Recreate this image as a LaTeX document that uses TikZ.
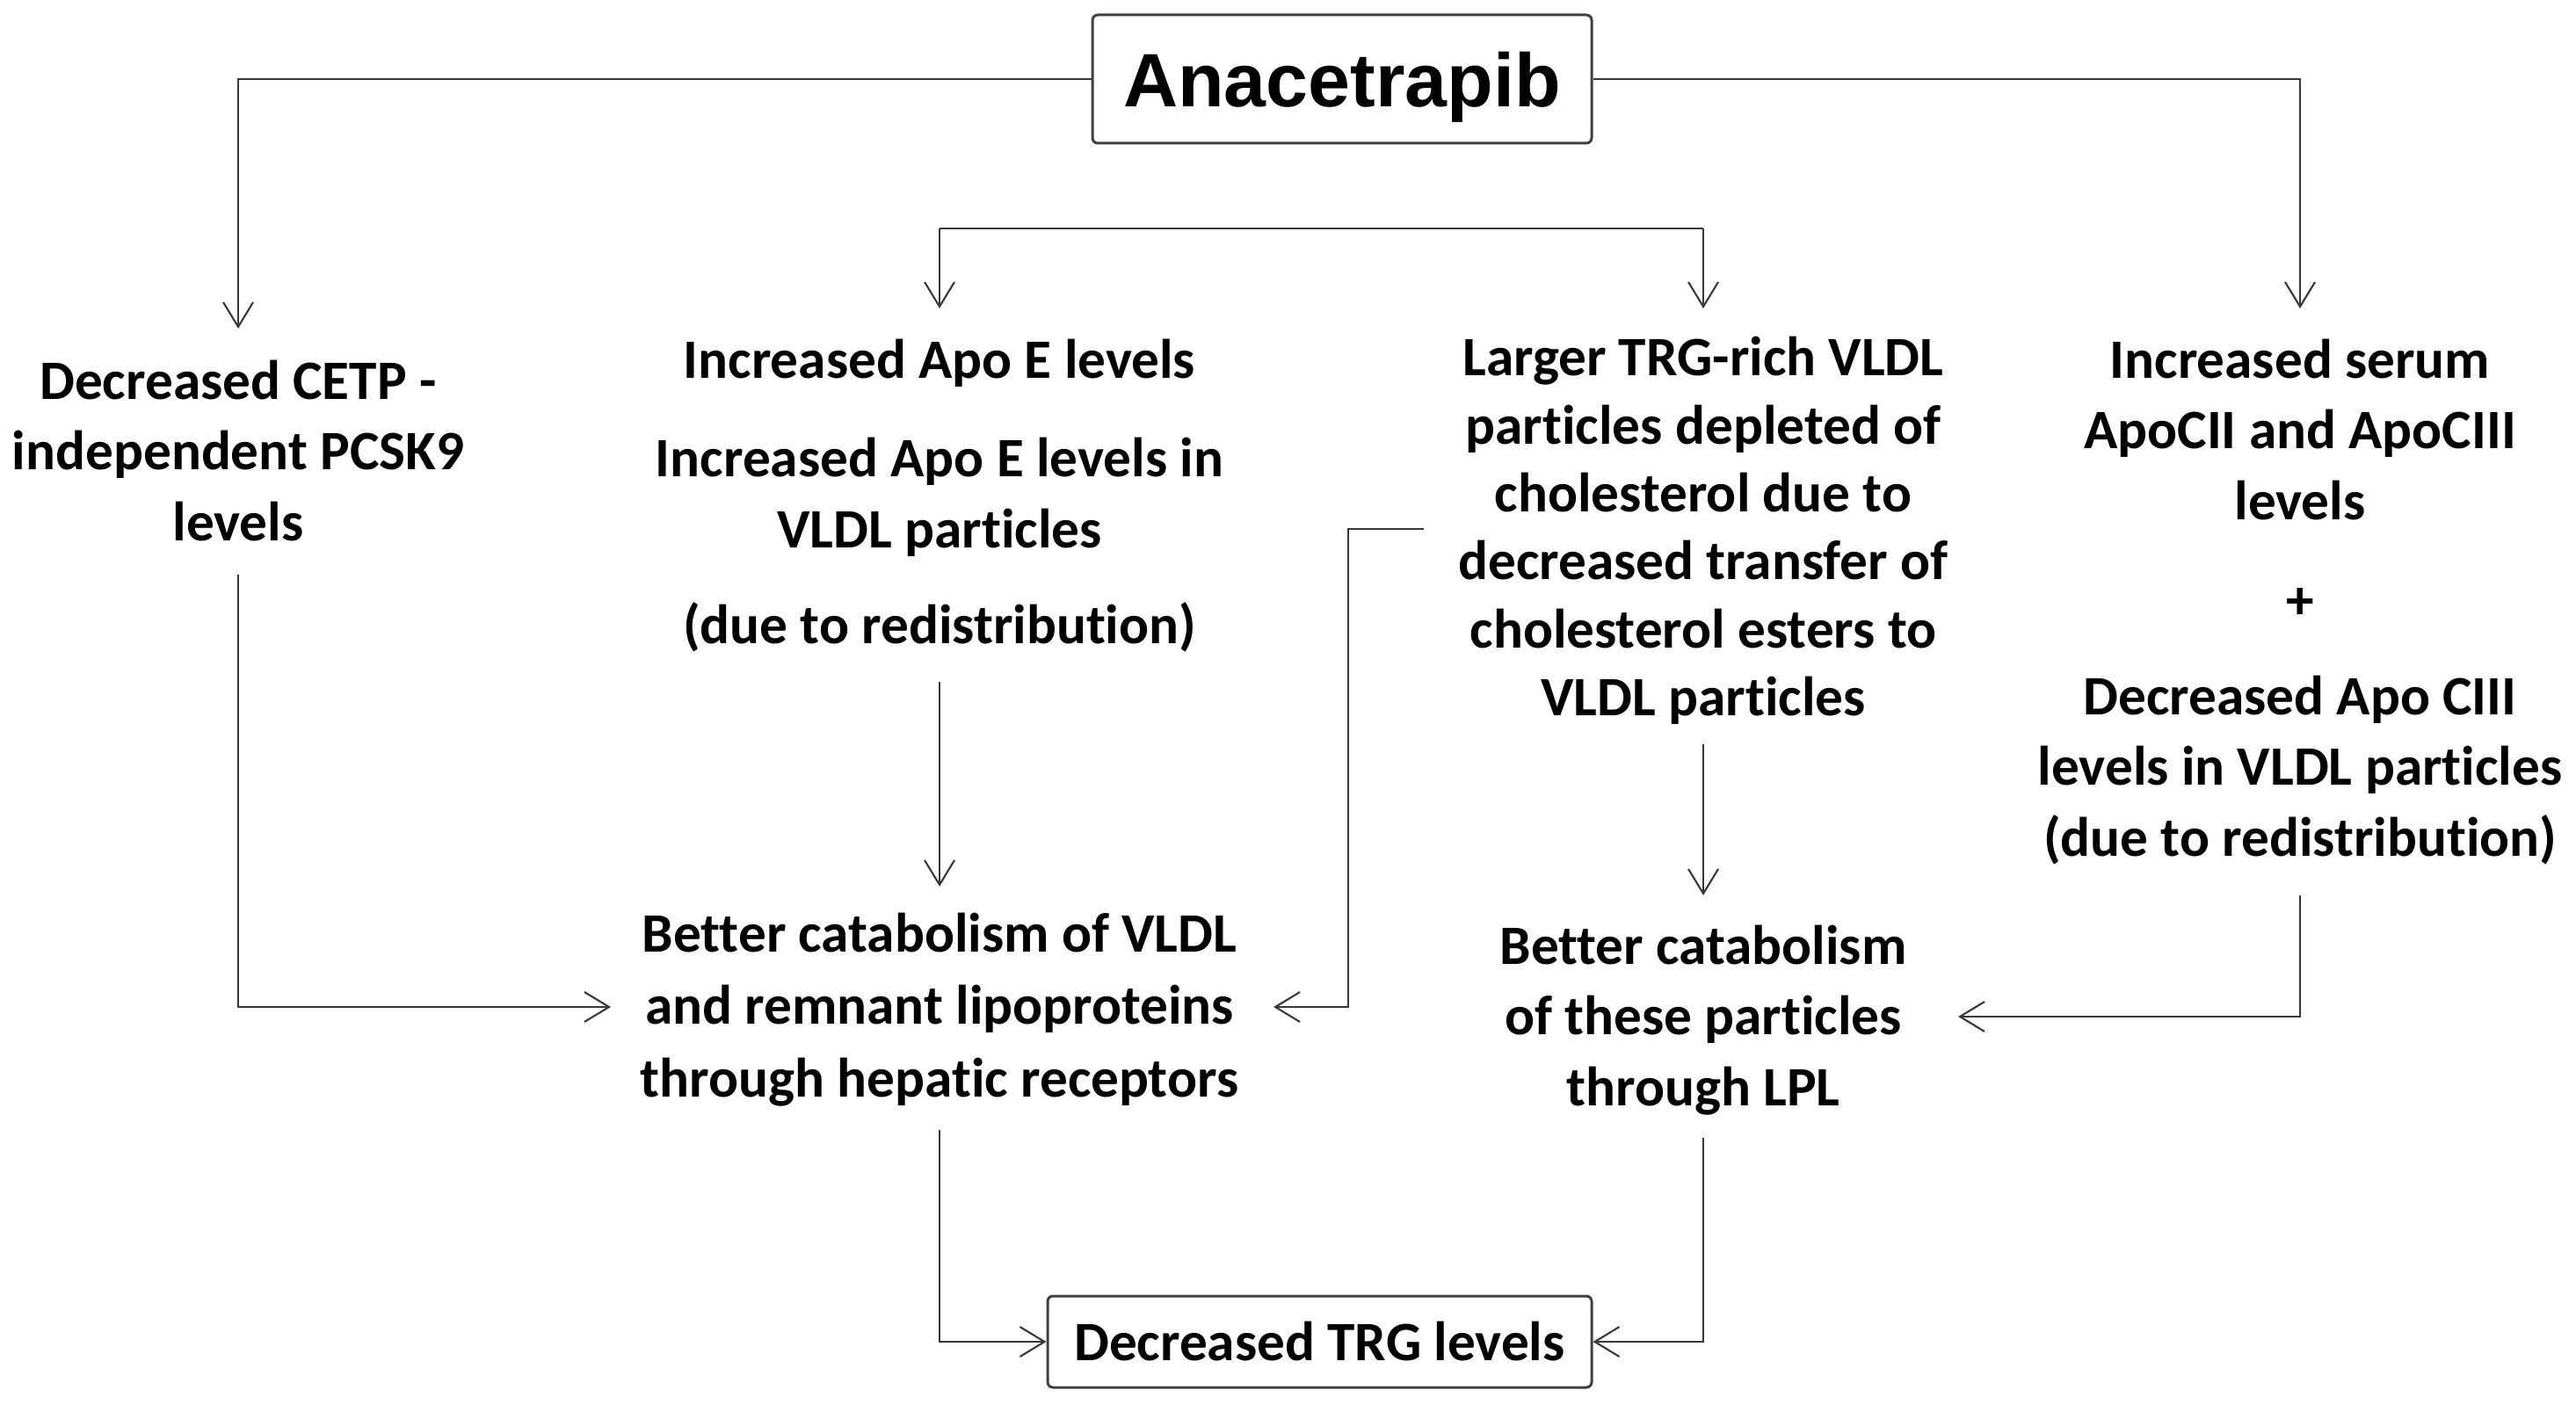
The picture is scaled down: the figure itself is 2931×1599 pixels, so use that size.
\documentclass[tikz,border=0pt]{standalone}
\usepackage{fontspec}
\setmainfont{Carlito}[Ligatures={NoCommon}]
\newfontfamily\arialfont{Liberation Sans}
\usetikzlibrary{arrows.meta}
\definecolor{linegray}{HTML}{383838}
\definecolor{boxgray}{HTML}{404040}
\tikzset{
  txt/.style={align=center, font=\bfseries\fontsize{18}{23}\selectfont, inner sep=0pt},
  framebox/.style={draw=boxgray, line width=0.85pt, rounded corners=0.6mm, inner sep=0pt, fill=white},
  conn/.style={draw=linegray, line width=0.6pt},
  arr/.style={conn, -{Straight Barb[length=2.8mm, width=3.4mm]}}
}
\begin{document}
\begin{tikzpicture}[x=0.1mm, y=-0.1mm]
\useasboundingbox (0,0) rectangle (2931,1599);

% boxes
\node[framebox, minimum width=56.8mm, minimum height=14.6mm, text depth=0pt, font=\arialfont\bfseries\fontsize{24.5}{28}\selectfont] (ana) at (1527,90) {Anacetrapib};
\node[framebox, minimum width=61.9mm, minimum height=10.4mm, font=\bfseries\fontsize{18}{23}\selectfont] (trg) at (1501.5,1527) {Decreased TRG levels};

% text nodes
\node[txt] (cetp) at (271,513) {Decreased CETP -\\independent PCSK9\\levels};
\node[txt] (apoe) at (1069,564) {Increased Apo E levels\\[9pt]Increased Apo E levels in\\VLDL particles\\[8pt](due to redistribution)};
\node[txt, font=\bfseries\fontsize{18}{22}\selectfont] (vldl) at (1938,604) {Larger TRG-rich VLDL\\particles depleted of\\cholesterol due to\\decreased transfer of\\cholesterol esters to\\VLDL particles};
\node[txt] (apoc) at (2617,685) {Increased serum\\ApoCII and ApoCIII\\levels\\[9pt]+\\[8pt]Decreased Apo CIII\\levels in VLDL particles\\(due to redistribution)};
\node[txt, font=\bfseries\fontsize{18}{23.5}\selectfont] (hep) at (1069,1149) {Better catabolism of VLDL\\and remnant lipoproteins\\through hepatic receptors};
\node[txt] (lpl) at (1938,1161) {Better catabolism\\of these particles\\through LPL};

% connector end points
\coordinate (cetpIn) at (271,374);
\coordinate (barL) at (1069,260);
\coordinate (barR) at (1938,260);
\coordinate (apoeIn) at (1069,351);
\coordinate (vldlIn) at (1938,351);
\coordinate (apocIn) at (2617,351);
\coordinate (cetpOut) at (271,654);
\coordinate (hepInL) at (695,1146);
\coordinate (apoeOut) at (1069,776);
\coordinate (hepInT) at (1069,1009);
\coordinate (vldlOutL) at (1620,602);
\coordinate (vldlBend) at (1534,602);
\coordinate (hepInR) at (1449,1146);
\coordinate (vldlOut) at (1938,847);
\coordinate (lplInT) at (1938,1019);
\coordinate (apocOut) at (2617,1019);
\coordinate (lplInR) at (2228,1157);
\coordinate (hepOut) at (1069,1286);
\coordinate (lplOut) at (1938,1295);

% connectors
\draw[arr] (ana.west) -| (cetpIn);
\draw[arr] (ana.east) -| (apocIn);
\draw[conn] (barL) -- (barR);
\draw[arr] (barL) -- (apoeIn);
\draw[arr] (barR) -- (vldlIn);
\draw[arr] (cetpOut) |- (hepInL);
\draw[arr] (apoeOut) -- (hepInT);
\draw[arr] (vldlOutL) -- (vldlBend) |- (hepInR);
\draw[arr] (vldlOut) -- (lplInT);
\draw[arr] (apocOut) |- (lplInR);
\draw[arr] (hepOut) |- (trg.west);
\draw[arr] (lplOut) |- (trg.east);
\end{tikzpicture}
\end{document}
